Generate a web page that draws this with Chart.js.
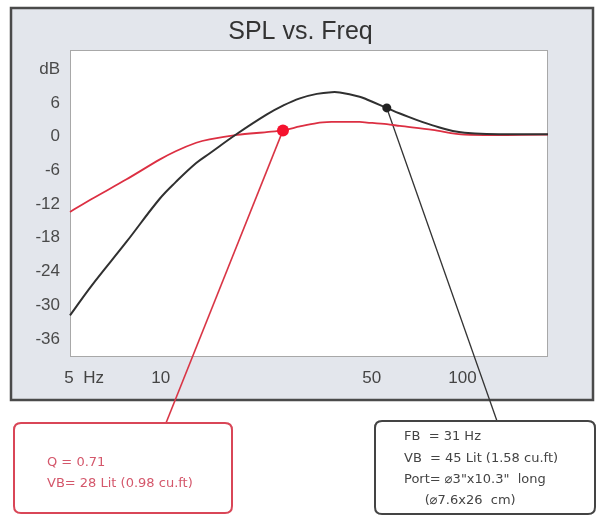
<!DOCTYPE html>
<html>
<head>
<meta charset="utf-8">
<script src="https://cdn.jsdelivr.net/npm/chart.js@4.4.0/dist/chart.umd.min.js"></script>
<style>
  body { margin: 0; background: #fff; }
  #wrap { width: 601px; height: 518px; position: relative; }
</style>
</head>
<body>
<div id="wrap"><canvas id="myChart"></canvas></div>
<script>
// frequency points (Hz)
var freqs = [5, 5.9, 7.7, 9.9, 11.2, 13.1, 14.5, 17.9, 22.4, 25.4, 28.9, 32.9, 36.8, 39.2, 45.6, 48.2, 56.1, 62, 79.6, 101.6, 192];
// vented box (black) and sealed box (red), dB
var ventedDb = [-31.8, -26.5, -18.7, -11.1, -8.1, -4.7, -3.0, 0.5, 3.9, 5.5, 6.8, 7.6, 7.9, 7.85, 7.1, 6.6, 5.1, 4.1, 2.0, 0.7, 0.4];
var sealedDb = [-13.4, -11.1, -7.6, -4.1, -2.6, -1.1, -0.5, 0.3, 0.8, 1.1, 1.8, 2.4, 2.6, 2.6, 2.6, 2.5, 2.2, 1.9, 1.2, 0.35, 0.35];
var sealedMarkIdx = 9;
var ventedMarkIdx = 16;

var xTicks = [5, 10, 50, 100];
var xLabels = ['5  Hz', '10', '50', '100'];
var yTicks = [-36, -30, -24, -18, -12, -6, 0, 6, 12];
var yLabels = ['-36', '-30', '-24', '-18', '-12', '-6', '0', '6', 'dB'];

var sealedNote = ['Q = 0.71', 'VB= 28 Lit (0.98 cu.ft)'];
var ventedNote = ['FB  = 31 Hz', 'VB  = 45 Lit (1.58 cu.ft)', 'Port= \u23003"x10.3"  long', '     (\u23007.6x26  cm)'];

function toPoints(ys) {
    var pts = [];
    for (var i = 0; i < freqs.length; i++) {
        pts.push({ x: freqs[i], y: ys[i] });
    }
    return pts;
}

function radii(idx, r) {
    return freqs.map(function (f, i) { return i === idx ? r : 0; });
}

function roundRect(ctx, x, y, w, h, r) {
    ctx.beginPath();
    ctx.moveTo(x + r, y);
    ctx.lineTo(x + w - r, y);
    ctx.quadraticCurveTo(x + w, y, x + w, y + r);
    ctx.lineTo(x + w, y + h - r);
    ctx.quadraticCurveTo(x + w, y + h, x + w - r, y + h);
    ctx.lineTo(x + r, y + h);
    ctx.quadraticCurveTo(x, y + h, x, y + h - r);
    ctx.lineTo(x, y + r);
    ctx.quadraticCurveTo(x, y, x + r, y);
    ctx.closePath();
}

var panelPlugin = {
    id: 'panel',
    beforeDraw: function (chart) {
        var ctx = chart.ctx;
        var a = chart.chartArea;
        ctx.save();
        ctx.fillStyle = '#ffffff';
        ctx.fillRect(0, 0, chart.width, chart.height);
        // grey frame
        ctx.fillStyle = '#e3e6ec';
        ctx.fillRect(11, 8, 582, 392);
        ctx.strokeStyle = '#4a4a4a';
        ctx.lineWidth = 2.5;
        ctx.strokeRect(11, 8, 582, 392);
        // plot area
        ctx.fillStyle = '#ffffff';
        ctx.fillRect(a.left, a.top, a.right - a.left, a.bottom - a.top);
        ctx.strokeStyle = '#a8a8a8';
        ctx.lineWidth = 1;
        ctx.strokeRect(a.left + 0.5, a.top + 0.5, a.right - a.left - 1, a.bottom - a.top - 1);
        ctx.restore();
    },
    beforeDatasetsDraw: function (chart) {
        var ctx = chart.ctx;
        var xs = chart.scales.x, ys = chart.scales.y;
        ctx.save();
        // leader lines
        ctx.strokeStyle = '#d93545';
        ctx.lineWidth = 1.6;
        ctx.beginPath();
        ctx.moveTo(xs.getPixelForValue(freqs[sealedMarkIdx]), ys.getPixelForValue(sealedDb[sealedMarkIdx]));
        ctx.lineTo(166, 423);
        ctx.stroke();
        ctx.strokeStyle = '#333333';
        ctx.lineWidth = 1.3;
        ctx.beginPath();
        ctx.moveTo(xs.getPixelForValue(freqs[ventedMarkIdx]), ys.getPixelForValue(ventedDb[ventedMarkIdx]));
        ctx.lineTo(497, 421);
        ctx.stroke();
        ctx.restore();
    },
    afterDraw: function (chart) {
        var ctx = chart.ctx;
        ctx.save();
        // red note box
        roundRect(ctx, 14, 423, 218, 90, 7);
        ctx.strokeStyle = '#d94657';
        ctx.lineWidth = 2;
        ctx.stroke();
        ctx.font = '13px "DejaVu Sans"';
        ctx.textBaseline = 'middle';
        ctx.fillStyle = '#d4576b';
        ctx.fillText(sealedNote[0], 47, 463);
        ctx.fillText(sealedNote[1], 47, 484);
        // black note box
        roundRect(ctx, 375, 421, 220, 93, 7);
        ctx.strokeStyle = '#444444';
        ctx.lineWidth = 2;
        ctx.stroke();
        ctx.fillStyle = '#444444';
        ctx.font = '13px "DejaVu Sans"';
        var ly = [437, 459, 480, 501];
        for (var i = 0; i < ventedNote.length; i++) {
            ctx.fillText(ventedNote[i], 404, ly[i]);
        }
        ctx.restore();
    }
};

const ctx = document.getElementById('myChart').getContext('2d');
const myChart = new Chart(ctx, {
    type: 'line',
    data: {
        datasets: [{
            label: 'vented',
            data: toPoints(ventedDb),
            borderColor: '#303030',
            backgroundColor: '#222222',
            borderWidth: 2,
            pointRadius: radii(ventedMarkIdx, 4.5),
            pointBorderWidth: 0,
            tension: 0.4,
            fill: false
        }, {
            label: 'sealed',
            data: toPoints(sealedDb),
            borderColor: '#dc2f42',
            backgroundColor: '#f5122e',
            borderWidth: 1.8,
            pointRadius: radii(sealedMarkIdx, 6),
            pointBorderWidth: 0,
            tension: 0.3,
            fill: false
        }]
    },
    options: {
        responsive: true,
        maintainAspectRatio: false,
        animation: false,
        clip: false,
        layout: { padding: { top: 0, left: 0, right: 0, bottom: 118 } },
        plugins: {
            legend: { display: false },
            tooltip: { enabled: false },
            title: {
                display: true,
                text: 'SPL vs. Freq',
                color: '#333333',
                font: { family: '"Liberation Sans", Arial', size: 25, weight: 'normal' },
                padding: { top: 17, bottom: 3 }
            }
        },
        scales: {
            x: {
                type: 'logarithmic',
                min: 5,
                max: 192,
                grid: { display: false, drawTicks: false },
                border: { display: false },
                afterBuildTicks: function (scale) {
                    scale.ticks = xTicks.map(function (v) { return { value: v }; });
                },
                afterFit: function (scale) { scale.height = 43; },
                ticks: {
                    autoSkip: false,
                    maxRotation: 0,
                    padding: 11,
                    color: '#444444',
                    font: { family: '"Liberation Sans", Arial', size: 17 },
                    callback: function (v) {
                        var i = xTicks.indexOf(v);
                        if (i === 0) return '      ' + xLabels[0];
                        return i >= 0 ? xLabels[i] : '';
                    }
                }
            },
            y: {
                min: -39.2,
                max: 15.4,
                grid: { display: false, drawTicks: false },
                border: { display: false },
                afterBuildTicks: function (scale) {
                    scale.ticks = yTicks.map(function (v) { return { value: v }; });
                },
                afterFit: function (scale) { scale.width = 70; },
                ticks: {
                    padding: 10,
                    color: '#4a4a4a',
                    font: { family: '"Liberation Sans", Arial', size: 17 },
                    callback: function (v) {
                        var i = yTicks.indexOf(v);
                        return i >= 0 ? yLabels[i] : '';
                    }
                }
            },
            // empty right-hand strip so the grey margin matches the frame
            yRight: {
                position: 'right',
                min: -39.2,
                max: 15.4,
                grid: { display: false, drawTicks: false },
                border: { display: false },
                ticks: { display: false },
                afterFit: function (scale) { scale.width = 53; }
            }
        }
    },
    plugins: [panelPlugin]
});
</script>
</body>
</html>
